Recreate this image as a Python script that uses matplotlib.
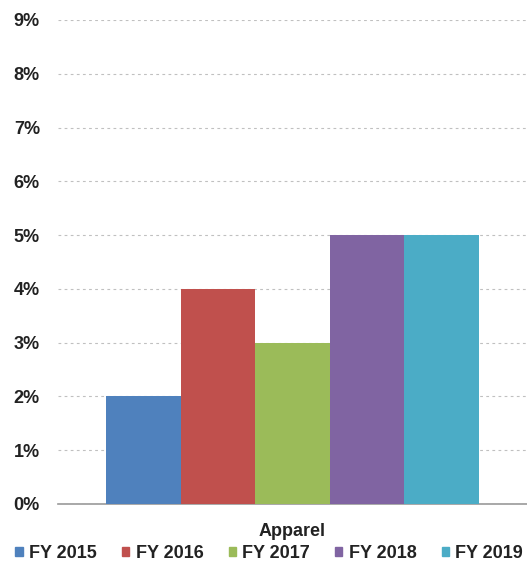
import matplotlib
matplotlib.use("Agg")
import matplotlib.pyplot as plt
from matplotlib.patches import Patch

categories = ["Apparel"]
series_names = ["FY 2015", "FY 2016", "FY 2017", "FY 2018", "FY 2019"]
values = [2, 4, 3, 5, 5]
colors = ["#4F81BD", "#C0504D", "#9BBB59", "#8064A2", "#4BACC6"]
yticks = [0, 1, 2, 3, 4, 5, 6, 7, 8, 9]

plt.rcParams['font.family'] = ['Liberation Sans', 'DejaVu Sans']

fig = plt.figure(figsize=(5.27, 5.72), dpi=100)
ax = fig.add_axes([58/527, 68/572, 1 - 58/527, (504-20)/572])

n = len(series_names)
bw = 0.159
for i, (name, v, c) in enumerate(zip(series_names, values, colors)):
    off = (i - (n - 1) / 2) * bw
    ax.bar(0 + off, v, width=bw, color=c, label=name, zorder=3)

ax.set_xlim(-0.5, 0.5)
ax.set_ylim(0, 9)
ax.set_yticks(yticks)
ax.set_yticklabels([f"{t}%" for t in yticks], fontsize=13, fontweight='bold', color='#222222')
ax.set_xticks([0])
ax.set_xticklabels(categories, fontsize=13, fontweight='bold', color='#222222')
ax.tick_params(axis='both', length=0)
ax.tick_params(axis='y', pad=13)
ax.tick_params(axis='x', pad=14)
for s in ['top', 'right', 'left']:
    ax.spines[s].set_visible(False)
ax.spines['bottom'].set_color('#999999')
ax.spines['bottom'].set_linewidth(1.2)
ax.yaxis.grid(True, linestyle=(0, (2.5, 3)), color='#c0c0c0', linewidth=0.8, zorder=0)
ax.set_axisbelow(True)

handles = [Patch(color=c) for c in colors]
leg = fig.legend(handles, series_names, loc='lower left', bbox_to_anchor=(0.002, -0.007),
                 ncol=5, frameon=False, handlelength=0.4, handleheight=0.4,
                 handletextpad=0.35, columnspacing=1.4, borderpad=0.3,
                 prop={'size': 13, 'weight': 'bold'})
for t in leg.get_texts():
    t.set_color('#222222')

fig.savefig("out.png", dpi=100)
